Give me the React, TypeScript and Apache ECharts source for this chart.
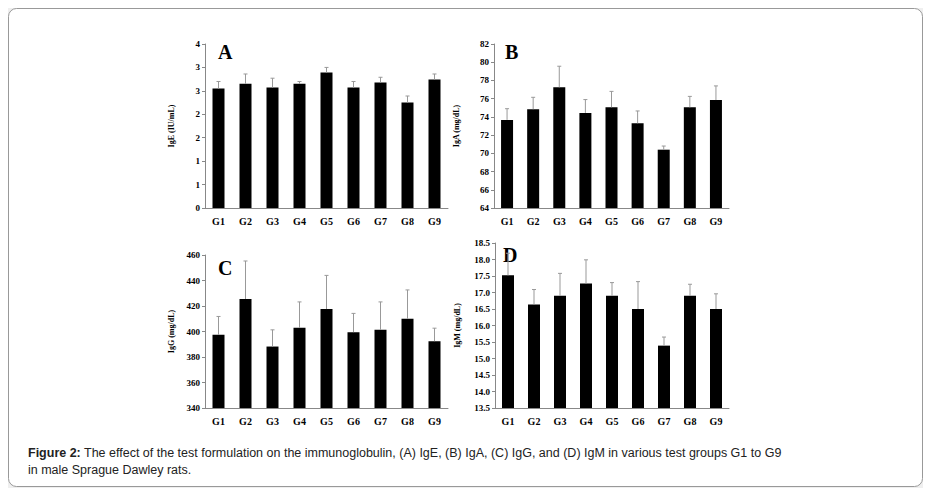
import React, { useEffect, useRef } from 'react';
import * as echarts from 'echarts';

const groups = ['G1', 'G2', 'G3', 'G4', 'G5', 'G6', 'G7', 'G8', 'G9'];

const igE = [2.55, 2.65, 2.57, 2.65, 2.89, 2.57, 2.68, 2.25, 2.74];
const igEErr = [2.70, 2.86, 2.77, 2.70, 3.0, 2.70, 2.79, 2.39, 2.86];
const igA = [73.67, 74.84, 77.24, 74.44, 75.05, 73.3, 70.4, 75.05, 75.85];
const igAErr = [74.9, 76.15, 79.56, 75.9, 76.8, 74.65, 70.8, 76.25, 77.4];
const igG = [397.4, 425.5, 388.2, 402.9, 417.6, 399.5, 401.3, 410, 392.4];
const igGErr = [411.8, 455.3, 401.3, 423.2, 444, 414.2, 423.2, 432.6, 402.6];
const igM = [17.52, 16.64, 16.9, 17.27, 16.9, 16.5, 15.39, 16.9, 16.5];
const igMErr = [18.19, 17.09, 17.58, 17.99, 17.3, 17.33, 15.65, 17.25, 16.96];

const panels = [
    { letter: 'A', name: 'IgE (IU/mL)', values: igE, err: igEErr, min: 0, max: 3.5, step: 0.5, fmt: (v: number) => String(Math.round(v)), grid: { left: 205, top: 44, width: 243, height: 164 }, lx: 218, ly: 42 },
    { letter: 'B', name: 'IgA (mg/dL)', values: igA, err: igAErr, min: 64, max: 82, step: 2, fmt: (v: number) => String(v), grid: { left: 494, top: 44, width: 235, height: 164 }, lx: 505, ly: 42 },
    { letter: 'C', name: 'IgG (mg/dL)', values: igG, err: igGErr, min: 340, max: 460, step: 20, fmt: (v: number) => String(v), grid: { left: 205, top: 255, width: 243, height: 153 }, lx: 218, ly: 258 },
    { letter: 'D', name: 'IgM (mg/dL)', values: igM, err: igMErr, min: 13.5, max: 18.5, step: 0.5, fmt: (v: number) => v.toFixed(1), grid: { left: 495, top: 243, width: 234, height: 165 }, lx: 503, ly: 245 },
];

const serif = '"Liberation Serif", "DejaVu Serif", serif';

const App = () => {
    const chartRef = useRef<HTMLDivElement>(null);

    useEffect(() => {
        if (!chartRef.current) return;
        const myChart = echarts.init(chartRef.current, null, { renderer: 'svg' });

        const grid = panels.map(p => p.grid);
        const xAxis = panels.map((p, i) => ({
            type: 'category', gridIndex: i, data: groups,
            axisLine: { lineStyle: { color: '#888' } },
            axisTick: { show: false },
            axisLabel: { fontFamily: serif, fontWeight: 'bold', fontSize: 10, color: '#000', margin: 8 },
        }));
        const yAxis = panels.map((p, i) => ({
            type: 'value', gridIndex: i, min: p.min, max: p.max, interval: p.step,
            name: p.name, nameLocation: 'middle', nameGap: i % 2 === 0 ? 30 : 34,
            nameTextStyle: { fontFamily: serif, fontWeight: 'bold', fontSize: 8, color: '#000' },
            axisLine: { show: true, lineStyle: { color: '#888' } },
            axisTick: { show: true, length: 3, lineStyle: { color: '#888' } },
            splitLine: { show: false },
            axisLabel: { formatter: p.fmt, fontFamily: serif, fontWeight: 'bold', fontSize: 9, color: '#000', margin: 5 },
        }));
        const series: any[] = [];
        panels.forEach((p, i) => {
            series.push({
                type: 'bar', xAxisIndex: i, yAxisIndex: i, data: p.values,
                barWidth: 12, itemStyle: { color: '#000' },
            });
            series.push({
                type: 'custom', xAxisIndex: i, yAxisIndex: i,
                data: p.values.map((v, k) => [k, v, p.err[k]]),
                renderItem: (params: any, api: any) => {
                    const lo = api.coord([api.value(0), api.value(1)]);
                    const hi = api.coord([api.value(0), api.value(2)]);
                    const st = { stroke: '#999', lineWidth: 1 };
                    return {
                        type: 'group',
                        children: [
                            { type: 'line', shape: { x1: lo[0], y1: lo[1], x2: hi[0], y2: hi[1] }, style: st },
                            { type: 'line', shape: { x1: hi[0] - 2, y1: hi[1], x2: hi[0] + 2, y2: hi[1] }, style: st },
                        ],
                    };
                },
                z: 3,
            });
        });

        const option = {
            animation: false,
            backgroundColor: '#efefef',
            grid, xAxis, yAxis, series,
            graphic: [
                { type: 'rect', shape: { x: 8.5, y: 8.5, width: 914, height: 478, r: 8 }, style: { fill: '#fff', stroke: '#999', lineWidth: 1 }, z: -10 },
                ...panels.map(p => ({
                    type: 'text', left: p.lx, top: p.ly,
                    style: { text: p.letter, font: `bold 20px ${serif}`, fill: '#000' },
                })),
                {
                    type: 'text', left: 28, top: 444,
                    style: {
                        text: '{b|Figure 2:} The effect of the test formulation on the immunoglobulin, (A) IgE, (B) IgA, (C) IgG, and (D) IgM in various test groups G1 to G9\nin male Sprague Dawley rats.',
                        font: '12.5px "Liberation Sans", Arial, sans-serif', fill: '#222', lineHeight: 17,
                        rich: { b: { fontWeight: 'bold', fontSize: 12.5, fontFamily: '"Liberation Sans", Arial, sans-serif', fill: '#222' } },
                    },
                },
            ],
        };
        myChart.setOption(option);

        return () => {
            myChart.dispose();
        };
    }, []);

    return <div ref={chartRef} style={{ width: '931px', height: '496px', margin: '-8px' }} />;
};

export default App;
